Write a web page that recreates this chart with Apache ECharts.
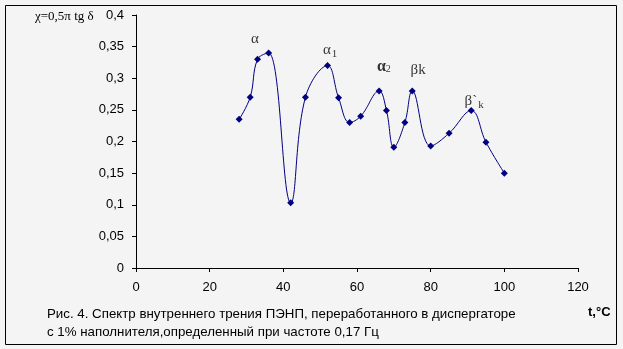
<!DOCTYPE html>
<html>
<head>
<meta charset="utf-8">
<script src="https://cdn.jsdelivr.net/npm/echarts@6/dist/echarts.min.js"></script>
<style>
html,body{margin:0;padding:0;background:#fff;}
#c{width:623px;height:349px;}
</style>
</head>
<body>
<div id="c"></div>
<script>
// Data
var temps = [28, 31, 33, 36, 42, 46, 52, 55, 58, 61, 66, 68, 70, 73, 75, 80, 85, 91, 95, 100];
var chi   = [0.235, 0.27, 0.33, 0.34, 0.103, 0.27, 0.32, 0.269, 0.23, 0.24, 0.28, 0.249, 0.191, 0.23, 0.28, 0.193, 0.213, 0.249, 0.199, 0.15];
var peakNames = ['alpha', 'alpha1', 'alpha2', 'betak', 'betak2'];
var peakX = [32.3, 52.7, 67.3, 76.6, 91.8];
var peakY = [0.362, 0.345, 0.318, 0.313, 0.264];
var yTicks = ['0', '0,05', '0,1', '0,15', '0,2', '0,25', '0,3', '0,35', '0,4'];
var xTicks = ['0', '20', '40', '60', '80', '100', '120'];
var yTitle = 'χ=0,5π tg δ';
var xTitle = 't,°C';
var caption1 = 'Рис. 4. Спектр внутреннего трения ПЭНП, переработанного в диспергаторе';
var caption2 = 'с 1% наполнителя,определенный при частоте 0,17 Гц';

var peakText = {
  alpha: '{g|α}',
  alpha1: '{g|α}{s|1}',
  alpha2: '{b|α}{sb|2}',
  betak: '{g|βk}',
  betak2: '{g|β`}{s|k}'
};

var chart = echarts.init(document.getElementById('c'));
var serif = '"Liberation Serif", "DejaVu Serif", serif';
var sans = '"Liberation Sans", Arial, sans-serif';

chart.setOption({
  backgroundColor: '#f4f4f4',
  animation: false,
  grid: {left: 136, right: 45, top: 15, bottom: 81},
  xAxis: {
    type: 'value', min: 0, max: 120, interval: 20,
    axisLine: {lineStyle: {color: '#000', width: 1}},
    axisTick: {show: true, length: 4, lineStyle: {color: '#000'}},
    splitLine: {show: false},
    axisLabel: {
      color: '#000', fontFamily: sans, fontSize: 13, margin: 13,
      formatter: function (v) { return xTicks[Math.round(v / 20)]; }
    }
  },
  yAxis: {
    type: 'value', min: 0, max: 0.4, interval: 0.05,
    axisLine: {show: true, lineStyle: {color: '#000', width: 1}},
    axisTick: {show: true, length: 4, lineStyle: {color: '#000'}},
    splitLine: {show: false},
    axisLabel: {
      color: '#000', fontFamily: sans, fontSize: 13, margin: 12,
      formatter: function (v) { return yTicks[Math.round(v / 0.05)]; }
    }
  },
  series: [
    {
      type: 'line',
      data: temps.map(function (t, i) { return [t, chi[i]]; }),
      smooth: 0.4,
      symbol: 'diamond',
      symbolSize: 7,
      lineStyle: {color: '#000080', width: 1},
      itemStyle: {color: '#000080'}
    },
    {
      type: 'scatter',
      symbolSize: 0,
      silent: true,
      data: peakX.map(function (x, i) { return {value: [x, peakY[i]], name: peakNames[i]}; }),
      label: {
        show: true, position: 'inside',
        formatter: function (p) { return peakText[p.name]; },
        rich: {
          g: {fontFamily: serif, fontSize: 15, color: '#000'},
          s: {fontFamily: serif, fontSize: 11, color: '#000', padding: [8, 0, 0, 1]},
          b: {fontFamily: serif, fontSize: 16, color: '#000', fontWeight: 'bold'},
          sb: {fontFamily: serif, fontSize: 10, color: '#000', padding: [6, 0, 0, 0]}
        }
      }
    }
  ],
  graphic: [
    {type: 'rect', shape: {x: 5.5, y: 5.5, width: 611, height: 339}, style: {fill: null, stroke: '#000', lineWidth: 1}, silent: true},
    {type: 'text', left: 35, top: 10, style: {text: yTitle, font: '13px ' + serif, fill: '#000'}},
    {type: 'text', left: 588, top: 306, style: {text: xTitle, font: 'bold 13px ' + sans, fill: '#000'}},
    {type: 'text', left: 47, top: 308, style: {text: caption1, font: '13.3px ' + sans, fill: '#000'}},
    {type: 'text', left: 47, top: 326, style: {text: caption2, font: '13.3px ' + sans, fill: '#000'}}
  ]
});
</script>
</body>
</html>
